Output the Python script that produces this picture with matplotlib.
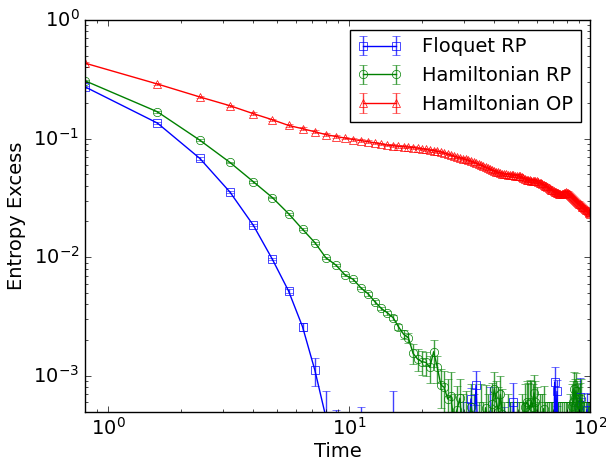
import matplotlib
matplotlib.use("Agg")
import matplotlib.pyplot as plt
import numpy as np

plt.style.use("classic")
plt.rcParams["mathtext.fontset"] = "dejavusans"
plt.rcParams["mathtext.default"] = "regular"
plt.rcParams["font.size"] = 14

# Data: sampled every 0.8 time units, 125 samples
time = 0.8 * np.arange(1, 126)

floquet_rp = [
    0.273, 0.135, 0.068, 0.0354, 0.0186, 0.0096, 0.0052, 0.0026, 0.00112, 0.00045,
    0.0002, 0.0001, 0.0003, 0.0002, 0.0001, 0.0002, 0.0003, 0.0001, 0.0003, 0.0003,
    0.0002, 0.0001, 0.0002, 0.0003, 0.0001, 0.0002, 0.0001, 0.0002, 0.0003, 0.0001,
    0.0002, 0.0001, 0.0002, 0.0001, 0.0003, 0.0002, 0.0004, 0.0002, 0.0003, 0.00064,
    0.0003, 0.00084, 0.0002, 0.0001, 0.0002, 0.0003, 0.0001, 0.0004, 0.0002, 0.0001,
    0.0002, 0.0001, 0.0003, 0.0002, 0.0002, 0.0002, 0.0003, 0.0004, 0.0002, 0.0006,
    0.0002, 0.0001, 0.0002, 0.0003, 0.0001, 0.0002, 0.0001, 0.0002, 0.0003, 0.0001,
    0.0002, 0.0001, 0.0003, 0.0002, 0.0001, 0.0002, 0.0001, 0.0003, 0.0002, 0.0001,
    0.0002, 0.0001, 0.0002, 0.0003, 0.0001, 0.0002, 0.0003, 0.0002, 0.00089, 0.0004,
    0.00074, 0.0003, 0.0002, 0.0001, 0.0002, 0.0001, 0.0003, 0.0002, 0.0001, 0.0002,
    0.0001, 0.0002, 0.0003, 0.0001, 0.0002, 0.0001, 0.0002, 0.0003, 0.0002, 0.0001,
    0.0002, 0.0003, 0.00066, 0.0004, 0.0002, 0.0001, 0.0002, 0.0003, 0.0001, 0.0002,
    0.00052, 0.0002, 0.0001, 0.0002, 0.0001,
]
floquet_err = [
    0.005, 0.003, 0.0015, 0.0008, 0.0004, 0.0002, 0.0002, 0.0002, 0.0003, 0.0003,
    0.00032, 0.0002, 0.0002, 0.00035, 0.0002, 0.0002, 0.0001, 0.0002, 0.00045, 0.0001,
    0.0002, 0.0002, 0.0001, 0.0001, 0.0002, 0.0002, 0.0002, 0.0002, 0.0001, 0.0002,
    0.0002, 0.0002, 0.0001, 0.0002, 0.0001, 0.0002, 0.0002, 0.0002, 0.0003, 0.00015,
    0.0002, 0.00027, 0.0002, 0.0002, 0.0002, 0.0001, 0.0002, 0.0004, 0.0002, 0.0002,
    0.0002, 0.0002, 0.0001, 0.0002, 0.00035, 0.0002, 0.0001, 0.0002, 0.0002, 0.00028,
    0.0002, 0.0002, 0.0002, 0.0001, 0.0002, 0.0002, 0.0002, 0.0002, 0.0001, 0.0002,
    0.0002, 0.0002, 0.0001, 0.0002, 0.0002, 0.0002, 0.0002, 0.0001, 0.0002, 0.0002,
    0.0002, 0.0002, 0.0002, 0.0001, 0.0002, 0.0002, 0.0001, 0.0002, 0.00029, 0.0002,
    0.00018, 0.0003, 0.0002, 0.0002, 0.0002, 0.0002, 0.0001, 0.0002, 0.0002, 0.0002,
    0.0002, 0.0002, 0.0001, 0.0002, 0.0002, 0.0002, 0.0002, 0.00028, 0.0002, 0.0002,
    0.0002, 0.0003, 0.0003, 0.00025, 0.0002, 0.0002, 0.0002, 0.0001, 0.0002, 0.0002,
    0.0002, 0.00035, 0.0002, 0.0002, 0.0002,
]

hamiltonian_rp = [
    0.307, 0.168, 0.0968, 0.0629, 0.0433, 0.0318, 0.0233, 0.0172, 0.0133, 0.0099,
    0.0086, 0.0071, 0.0065, 0.0055, 0.0049, 0.0042, 0.0037, 0.0034, 0.0031, 0.0026,
    0.00225, 0.0021, 0.00155, 0.00139, 0.00132, 0.0013, 0.00118, 0.0016, 0.00118, 0.00084,
    0.0008, 0.00064, 0.00068, 0.0004, 0.00052, 0.00065, 0.0003, 0.00045, 0.0002, 0.00055,
    0.0004, 0.0002, 0.0003, 0.00045, 0.0003, 0.00054, 0.0004, 0.0002, 0.00058, 0.00078,
    0.0006, 0.0005, 0.0007, 0.00048, 0.0003, 0.0002, 0.0004, 0.0003, 0.0002, 0.0003,
    0.0002, 0.0004, 0.0003, 0.0002, 0.0004, 0.0003, 0.00055, 0.0006, 0.00058, 0.00052,
    0.0006, 0.00055, 0.00072, 0.0006, 0.0004, 0.0003, 0.0004, 0.0002, 0.0003, 0.00053,
    0.0003, 0.0002, 0.0004, 0.0003, 0.0002, 0.0003, 0.0004, 0.0002, 0.0003, 0.0002,
    0.0004, 0.0003, 0.0002, 0.0003, 0.0004, 0.0002, 0.0003, 0.0002, 0.0004, 0.0003,
    0.0002, 0.0003, 0.0004, 0.0003, 0.00056, 0.0006, 0.00077, 0.00065, 0.00075, 0.0006,
    0.00055, 0.0005, 0.00058, 0.00064, 0.0003, 0.0002, 0.0004, 0.0003, 0.0002, 0.0003,
    0.0002, 0.0004, 0.0003, 0.0002, 0.0003,
]
hamiltonian_rp_err = [
    0.006, 0.003, 0.0015, 0.001, 0.0007, 0.0005, 0.0004, 0.0003, 0.00025, 0.0002,
    0.0002, 0.00018, 0.00016, 0.00015, 0.00015, 0.00014, 0.00014, 0.00014, 0.00015, 0.00015,
    0.0002, 0.0002, 0.0003, 0.0003, 0.0003, 0.0003, 0.0003, 0.0004, 0.0003, 0.0003,
    0.0003, 0.0003, 0.0004, 0.0003, 0.0003, 0.0003, 0.0004, 0.0003, 0.0003, 0.0003,
    0.0003, 0.0003, 0.0003, 0.0004, 0.0003, 0.0003, 0.0003, 0.0003, 0.0003, 0.0003,
    0.0003, 0.0003, 0.0003, 0.0003, 0.0003, 0.0003, 0.0003, 0.0003, 0.0003, 0.0003,
    0.0003, 0.0002, 0.0003, 0.0003, 0.0003, 0.0003, 0.0003, 0.0003, 0.0003, 0.0004,
    0.0003, 0.0003, 0.0003, 0.0003, 0.0004, 0.0003, 0.0003, 0.0003, 0.0004, 0.0003,
    0.0003, 0.0003, 0.0002, 0.0003, 0.0003, 0.0003, 0.0002, 0.0003, 0.0003, 0.0003,
    0.0002, 0.0003, 0.0003, 0.0003, 0.0002, 0.0003, 0.0003, 0.0003, 0.0002, 0.0003,
    0.0003, 0.0003, 0.0003, 0.0003, 0.0003, 0.0003, 0.0003, 0.0003, 0.0003, 0.0003,
    0.0003, 0.0003, 0.0003, 0.0003, 0.0004, 0.0003, 0.0002, 0.0003, 0.0003, 0.0003,
    0.0003, 0.0002, 0.0003, 0.0003, 0.0003,
]

hamiltonian_op = [
    0.432, 0.288, 0.224, 0.189, 0.162, 0.144, 0.129, 0.121, 0.114, 0.108,
    0.104, 0.101, 0.098, 0.096, 0.094, 0.092, 0.090, 0.088, 0.087, 0.086,
    0.0853, 0.0847, 0.084, 0.083, 0.0819, 0.081, 0.0797, 0.079, 0.078, 0.0773,
    0.0755, 0.074, 0.0725, 0.0709, 0.0698, 0.0688, 0.0677, 0.0666, 0.0655, 0.0645,
    0.0633, 0.062, 0.0609, 0.0597, 0.0586, 0.0575, 0.0563, 0.0553, 0.0542, 0.0532,
    0.0525, 0.0518, 0.0512, 0.0506, 0.050, 0.0498, 0.0497, 0.0494, 0.0492, 0.049,
    0.0487, 0.0485, 0.0483, 0.048, 0.0472, 0.0463, 0.0456, 0.045, 0.0447, 0.0445,
    0.0443, 0.0441, 0.0439, 0.0437, 0.0436, 0.0431, 0.0425, 0.042, 0.0414, 0.0408,
    0.0402, 0.0397, 0.039, 0.0384, 0.0378, 0.0372, 0.0366, 0.0362, 0.0357, 0.0353,
    0.035, 0.0345, 0.0342, 0.034, 0.0341, 0.0344, 0.0348, 0.0351, 0.0352, 0.035,
    0.0346, 0.0339, 0.0333, 0.0327, 0.0322, 0.0318, 0.0312, 0.0305, 0.0299, 0.0293,
    0.0288, 0.0283, 0.0279, 0.0274, 0.027, 0.0266, 0.0263, 0.0259, 0.0255, 0.0251,
    0.0248, 0.0244, 0.024, 0.0236, 0.0233,
]
hamiltonian_op_err = [
    0.008, 0.006, 0.005, 0.004, 0.004, 0.003, 0.003, 0.003, 0.003, 0.003,
    0.0025, 0.0025, 0.0024, 0.0024, 0.0023, 0.0023, 0.0022, 0.0022, 0.0022, 0.0021,
    0.0021, 0.0021, 0.002, 0.002, 0.002, 0.002, 0.002, 0.0019, 0.0019, 0.0019,
    0.0019, 0.0018, 0.0018, 0.0018, 0.0018, 0.0017, 0.0017, 0.0017, 0.0017, 0.0017,
    0.0016, 0.0016, 0.0016, 0.0016, 0.0016, 0.0016, 0.0015, 0.0015, 0.0015, 0.0015,
    0.0015, 0.0015, 0.0015, 0.0015, 0.0015, 0.0015, 0.0015, 0.0015, 0.0015, 0.0015,
    0.0015, 0.0015, 0.0015, 0.0015, 0.0015, 0.0014, 0.0014, 0.0014, 0.0014, 0.0014,
    0.0014, 0.0014, 0.0014, 0.0014, 0.0014, 0.0014, 0.0014, 0.0014, 0.0014, 0.0014,
    0.0014, 0.0014, 0.0013, 0.0013, 0.0013, 0.0013, 0.0013, 0.0013, 0.0013, 0.0013,
    0.0013, 0.0013, 0.0013, 0.0013, 0.0013, 0.0013, 0.0013, 0.0013, 0.0013, 0.0013,
    0.0013, 0.0013, 0.0013, 0.0013, 0.0012, 0.0012, 0.0012, 0.0012, 0.0012, 0.0012,
    0.0012, 0.0012, 0.0012, 0.0012, 0.0012, 0.0012, 0.0012, 0.0012, 0.0012, 0.0012,
    0.0012, 0.0012, 0.0012, 0.0012, 0.0012,
]

series = [
    ("Floquet RP", floquet_rp, floquet_err, "b", "s"),
    ("Hamiltonian RP", hamiltonian_rp, hamiltonian_rp_err, "g", "o"),
    ("Hamiltonian OP", hamiltonian_op, hamiltonian_op_err, "r", "^"),
]

fig = plt.figure(figsize=(6.06, 4.61), dpi=100)
ax = fig.add_axes([0.140, 0.107, 0.834, 0.850])

for label, vals, errs, color, marker in series:
    ax.errorbar(time, vals, yerr=errs, color=color, marker=marker,
                markersize=6, mfc="none", mec=color, lw=1,
                ecolor=matplotlib.colors.to_rgba(color, 0.75),
                capsize=3, label=label)

ax.set_xscale("log")
ax.set_yscale("log")
ax.set_xlim(0.8, 100)
ax.set_ylim(5e-4, 1)
ax.set_xlabel("Time", labelpad=2)
ax.set_ylabel("Entropy Excess")
ax.legend(loc="upper right", numpoints=2, fontsize=14,
          handlelength=2.3, handletextpad=1.0)

fig.savefig("out.png", dpi=100)
